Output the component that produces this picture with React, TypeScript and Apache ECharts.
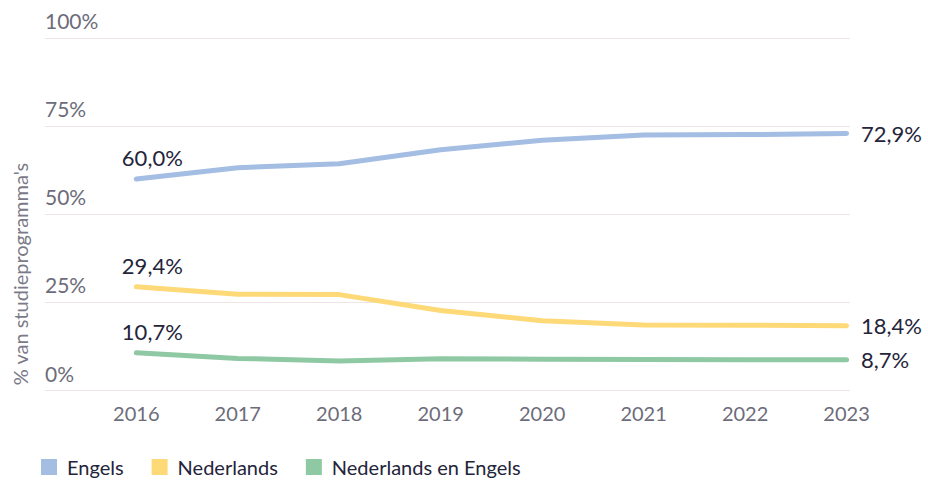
import React, { useEffect, useRef } from "react";
import * as echarts from "echarts";

const years = [2016, 2017, 2018, 2019, 2020, 2021, 2022, 2023];
const engels = [60.0, 63.2, 64.3, 68.3, 71.0, 72.5, 72.6, 72.9];
const nederlands = [29.4, 27.3, 27.2, 22.7, 19.8, 18.6, 18.5, 18.4];
const nlEn = [10.7, 9.1, 8.4, 9.0, 8.9, 8.8, 8.7, 8.7];
const seriesNames = ["Engels", "Nederlands", "Nederlands en Engels"];
const colors = ["#a3bde3", "#fed978", "#8ec9a3"];
const yTicks = [0, 25, 50, 75, 100];
const yName = "% van studieprogramma's";

const FONT = "Lato";
const fmt = (v: number) => v.toFixed(1).replace(".", ",") + "%";

export default function App() {
  const ref = useRef<HTMLDivElement>(null);
  useEffect(() => {
    if (!ref.current) return;
    const chart = echarts.init(ref.current, null, { renderer: "svg" });
    const allSeries = [engels, nederlands, nlEn];
    const last = years.length - 1;
    const series = allSeries.map((vals, si) => ({
      type: "line",
      name: seriesNames[si],
      symbol: "circle",
      symbolSize: 1,
      showSymbol: true,
      color: colors[si],
      itemStyle: { color: colors[si] },
      lineStyle: { width: 5, color: colors[si], cap: "round", join: "round" },
      emphasis: { disabled: true },
      data: vals.map((v, i) => {
        const item: any = { value: [years[i], v] };
        if (i === 0) {
          item.label = {
            show: true,
            position: "top",
            distance: 10,
            offset: [16, 0],
            formatter: () => fmt(v),
            fontFamily: FONT,
            fontSize: 22,
            color: "#24243a",
          };
        } else if (i === last) {
          item.label = {
            show: true,
            position: "right",
            distance: 14,
            formatter: () => fmt(v),
            fontFamily: FONT,
            fontSize: 22,
            color: "#24243a",
          };
        }
        return item;
      }),
    }));

    chart.setOption({
      animation: false,
      textStyle: { fontFamily: FONT },
      grid: { left: 45, right: 78, top: 38, bottom: 89.5 },
      legend: {
        left: 36,
        top: 452,
        icon: "rect",
        itemWidth: 16,
        itemHeight: 16,
        itemGap: 28,
        selectedMode: false,
        data: seriesNames,
        itemStyle: { borderWidth: 0 },
        textStyle: {
          fontFamily: FONT,
          fontSize: 20,
          color: "#24243a",
          padding: [0, 0, 0, 5],
        },
      },
      xAxis: {
        type: "value",
        min: 2015.1,
        max: 2023.034,
        minInterval: 1,
        maxInterval: 1,
        splitLine: { show: false },
        axisLine: { show: false },
        axisTick: { show: false },
        axisLabel: {
          margin: 12,
          fontFamily: FONT,
          fontSize: 20,
          color: "#6c6c7a",
          formatter: (v: number) =>
            years.indexOf(Math.round(v)) >= 0 && Math.abs(v - Math.round(v)) < 1e-6
              ? String(Math.round(v))
              : "",
        },
      },
      yAxis: {
        type: "value",
        min: yTicks[0],
        max: yTicks[yTicks.length - 1],
        interval: 25,
        axisLine: { show: false },
        axisTick: { show: false },
        splitLine: { lineStyle: { color: "#ede6e4", width: 1 } },
        axisLabel: {
          inside: true,
          margin: 0,
          verticalAlign: "bottom",
          padding: [0, 0, 7, 0],
          fontFamily: FONT,
          fontSize: 21,
          color: "#6c6c7a",
          formatter: (v: number) => v + "%",
        },
      },
      graphic: [
        {
          type: "text",
          x: 20,
          y: 274,
          rotation: Math.PI / 2,
          style: {
            text: yName,
            fontFamily: FONT,
            fontSize: 20,
            fill: "#7a7a88",
            textAlign: "center",
            textVerticalAlign: "middle",
          },
        },
      ],
      series,
    });
    return () => chart.dispose();
  }, []);
  return <div ref={ref} style={{ width: 928, height: 480, position: "absolute", left: 0, top: 0 }} />;
}
